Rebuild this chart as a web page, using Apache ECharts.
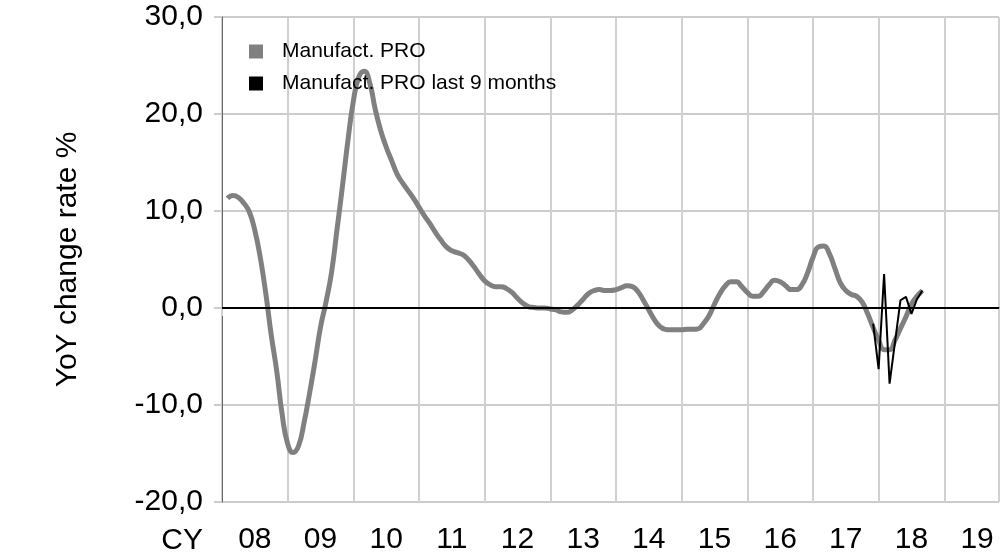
<!DOCTYPE html>
<html>
<head>
<meta charset="utf-8">
<script src="https://cdn.jsdelivr.net/npm/echarts@6/dist/echarts.min.js"></script>
<style>
  html, body { margin: 0; padding: 0; background: #fff; }
  #main { width: 1002px; height: 556px; }
</style>
</head>
<body>
<div id="main"></div>
<script>
// months counted from Jan 2008 (0 = Jan 2008)
const startMonth = 1;
const proValues = [
  11.3, 11.6, 11.4, 10.8, 9.9, 8.0, 5.2, 1.5, -2.8, -6.5, -11.0, -14.0,
  -14.9, -14.2, -11.8, -8.8, -5.5, -2.0, 0.6, 3.6, 8.0, 12.5, 17.2, 21.3,
  23.8, 24.4, 23.2, 20.5, 18.3, 16.6, 15.2, 13.8, 12.9, 12.1, 11.3, 10.4,
  9.5, 8.7, 7.8, 7.0, 6.3, 5.9, 5.7, 5.5, 5.0, 4.3, 3.5, 2.8,
  2.4, 2.2, 2.2, 2.0, 1.6, 1.0, 0.5, 0.15, 0.05, 0.0, 0.0, -0.1,
  -0.2, -0.4, -0.45, -0.2, 0.3, 0.9, 1.5, 1.8, 1.9, 1.8, 1.8, 1.9,
  2.1, 2.3, 2.2, 1.7, 0.8, -0.2, -1.2, -1.9, -2.2, -2.25, -2.25, -2.25,
  -2.2, -2.2, -2.15, -1.6, -0.8, 0.4, 1.5, 2.3, 2.7, 2.7, 2.2, 1.6,
  1.2, 1.2, 1.7, 2.4, 2.85, 2.7, 2.3, 1.9, 1.9, 2.4, 3.6, 5.2,
  6.3, 6.4, 5.6, 4.1, 2.6, 1.8, 1.4, 1.2, 0.6, -0.6, -2.0, -3.3,
  -4.3, -4.3, -3.3, -2.1, -0.9, 0.4, 1.2, 1.8
];
const lastStartMonth = 119;
const lastValues = [-1.6, -6.3, 3.5, -7.8, -3.5, 0.8, 1.15, -0.6, 0.9, 1.8];
const yearLabels = ['08', '09', '10', '11', '12', '13', '14', '15', '16', '17', '18', '19'];

const toPoints = (start, vals) => vals.map((v, i) => [start + i, v]);
const font = 'Liberation Sans, Arial, sans-serif';

let myChart = echarts.init(document.getElementById('main'));
myChart.setOption({
  animation: false,
  grid: {
    left: 222, right: 0, top: 17, bottom: 51,
    show: true, borderColor: '#666', borderWidth: 1
  },
  legend: {
    orient: 'vertical',
    left: 244, top: 36,
    itemWidth: 14, itemHeight: 14, itemGap: 11,
    icon: 'rect',
    textStyle: { fontSize: 21, fontFamily: font, color: '#000', padding: [0, 0, 0, 14] },
    data: ['Manufact. PRO', 'Manufact. PRO last 9 months']
  },
  xAxis: [{
    type: 'value', min: 0, max: 142, interval: 12,
    axisLine: { show: true, lineStyle: { color: '#333', width: 1.5 } },
    axisTick: { show: true, length: 8, lineStyle: { color: '#d0d0d0', width: 2 } },
    axisLabel: { show: false },
    splitLine: { show: true, lineStyle: { color: '#d0d0d0', width: 2 } }
  }, {
    type: 'value', min: 0, max: 142, interval: 6, position: 'bottom',
    axisLine: { show: false }, axisTick: { show: false }, splitLine: { show: false },
    axisLabel: {
      show: true, fontSize: 30, fontFamily: font, color: '#000', margin: 23,
      showMinLabel: true, showMaxLabel: true,
      formatter: v => (v % 12 === 6 ? yearLabels[(v - 6) / 12] : '')
    },
    name: 'CY', nameLocation: 'start', nameGap: 19,
    nameTextStyle: { fontSize: 30, fontFamily: font, color: '#000', align: 'right', verticalAlign: 'top', padding: [24, 0, 0, 0] }
  }],
  yAxis: {
    type: 'value', min: -20, max: 30, interval: 10,
    name: 'YoY change rate %', nameLocation: 'middle', nameGap: 139, nameRotate: 90,
    nameTextStyle: { fontSize: 30, fontFamily: font, color: '#000' },
    axisLine: { show: true, lineStyle: { color: '#666', width: 1 } },
    axisTick: { show: true, length: 8, lineStyle: { color: '#ccc', width: 2 } },
    axisLabel: {
      fontSize: 30, fontFamily: font, color: '#000', margin: 19,
      formatter: v => v.toFixed(1).replace('.', ',')
    },
    splitLine: { show: true, lineStyle: { color: '#ccc', width: 2 } }
  },
  series: [{
    name: 'Manufact. PRO', type: 'line', xAxisIndex: 0,
    data: toPoints(startMonth, proValues),
    smooth: 0.5, showSymbol: false,
    itemStyle: { color: '#808080' },
    lineStyle: { color: '#808080', width: 5 },
    markLine: {
      silent: true, symbol: 'none', label: { show: false },
      lineStyle: { color: '#000', width: 2, type: 'solid' },
      data: [{ yAxis: 0 }]
    },
    z: 3
  }, {
    name: 'Manufact. PRO last 9 months', type: 'line', xAxisIndex: 0,
    data: toPoints(lastStartMonth, lastValues),
    showSymbol: false,
    itemStyle: { color: '#000' },
    lineStyle: { color: '#000', width: 2 },
    z: 4
  }]
});
</script>
</body>
</html>
